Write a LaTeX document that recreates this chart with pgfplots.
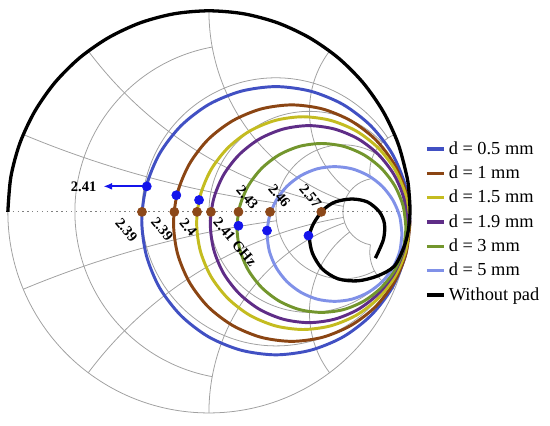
\documentclass[border=0pt]{standalone}
\usepackage{fontspec}
\setmainfont{Liberation Serif}
\usepackage{pgfplots}
\pgfplotsset{compat=1.18}
\usetikzlibrary{arrows.meta}

\definecolor{cBlue}{RGB}{65,80,195}
\definecolor{cBrown}{RGB}{139,69,19}
\definecolor{cYellow}{RGB}{196,188,32}
\definecolor{cPurple}{RGB}{95,45,135}
\definecolor{cGreen}{RGB}{115,150,45}
\definecolor{cLight}{RGB}{128,145,232}
\definecolor{mBlue}{RGB}{20,20,235}
\definecolor{mBrown}{RGB}{140,72,25}
\definecolor{gridc}{RGB}{160,160,160}

\begin{document}
\begin{tikzpicture}[lab/.style={font=\fontsize{8.4}{10}\selectfont\bfseries, inner sep=1pt}]
% page size (chart radius = 4.08cm, centre at (4.08cm,4.08cm))
\path[use as bounding box] (-0.1592cm,-0.2608cm) rectangle (11.0008cm,8.3792cm);

% Smith chart grid
\begin{scope}[x=4.08cm, y=4.08cm, shift={(1,1)}, draw=gridc, line width=0.45pt]
  \draw (0,0) circle[radius=1];
  % constant resistance circles
  \draw (0.0164,0.8197) arc[start angle=100.4, end angle=259.6, radius=0.8333];
  \draw (0.8899,0.3670) arc[start angle=33.4, end angle=326.6, radius=0.6667];
  \draw (0.8621,0.3448) arc[start angle=43.6, end angle=316.4, radius=0.5];
  \draw (0.8235,0.2941) arc[start angle=61.9, end angle=298.1, radius=0.3333];
  \draw (0.8033,0.1639) arc[start angle=100.4, end angle=259.6, radius=0.1667];
  % constant reactance arcs
  \draw (-0.9231,0.3846) arc[start angle=247.38, end angle=262.37, radius=5];
  \draw (-0.9231,-0.3846) arc[start angle=-247.38, end angle=-262.37, radius=5];
  \draw (-0.6,0.8) arc[start angle=216.87, end angle=260.47, radius=2];
  \draw (-0.6,-0.8) arc[start angle=-216.87, end angle=-260.47, radius=2];
  \draw (0,1) arc[start angle=180, end angle=251.08, radius=1];
  \draw (0,-1) arc[start angle=-180, end angle=-251.08, radius=1];
  \draw (0.6,0.8) arc[start angle=143.13, end angle=233.13, radius=0.5];
  \draw (0.6,-0.8) arc[start angle=-143.13, end angle=-233.13, radius=0.5];
  \draw (0.9231,0.3846) arc[start angle=112.62, end angle=190.4, radius=0.2];
  \draw (0.9231,-0.3846) arc[start angle=-112.62, end angle=-190.4, radius=0.2];
  % real axis
  \draw[dash pattern=on 0.8pt off 2pt, draw=gray] (-1,0) -- (1,0);
\end{scope}

\begin{axis}[
    at={(0,0)}, anchor=south west,
    scale only axis, width=8.16cm, height=8.16cm,
    xmin=-1, xmax=1, ymin=-1, ymax=1,
    hide axis, clip=false,
    legend style={at={(1.0246,0.6936)}, anchor=north west, draw=none, fill=none,
        font=\fontsize{10.6}{12}\selectfont, row sep=1.2pt},
    legend cell align=left,
    legend image code/.code={\draw[#1, line width=1.8pt] (0cm,0cm) -- (0.34cm,0cm);},
]
\addplot[cBlue, line width=1.7pt, smooth] coordinates {
 (1.000,-0.044) (0.977,0.129) (0.911,0.290) (0.805,0.428) (0.667,0.534) (0.506,0.600)
 (0.333,0.623) (0.160,0.600) (-0.001,0.534) (-0.139,0.428) (-0.245,0.290) (-0.311,0.129)
 (-0.334,-0.044) (-0.311,-0.217) (-0.245,-0.378) (-0.139,-0.516) (-0.001,-0.622) (0.160,-0.688)
 (0.333,-0.711) (0.506,-0.688) (0.667,-0.622) (0.805,-0.516) (0.911,-0.378) (0.977,-0.217)
 (1.000,-0.044)};
\addlegendentry{d = 0.5 mm}
\addplot[cBrown, line width=1.7pt, smooth] coordinates {
 (1.000,-0.056) (0.980,0.096) (0.921,0.238) (0.828,0.360) (0.706,0.453) (0.564,0.512)
 (0.412,0.532) (0.260,0.512) (0.118,0.453) (-0.004,0.360) (-0.097,0.238) (-0.156,0.096)
 (-0.176,-0.056) (-0.156,-0.208) (-0.097,-0.350) (-0.004,-0.472) (0.118,-0.565) (0.260,-0.624)
 (0.412,-0.644) (0.564,-0.624) (0.706,-0.565) (0.828,-0.472) (0.921,-0.350) (0.980,-0.208)
 (1.000,-0.056)};
\addlegendentry{d = 1 mm}
\addplot[cYellow, line width=1.7pt, smooth] coordinates {
 (0.997,-0.056) (0.979,0.081) (0.926,0.209) (0.842,0.318) (0.733,0.402) (0.605,0.455)
 (0.468,0.473) (0.331,0.455) (0.203,0.402) (0.094,0.318) (0.010,0.209) (-0.043,0.081)
 (-0.061,-0.056) (-0.043,-0.193) (0.010,-0.321) (0.094,-0.430) (0.203,-0.514) (0.331,-0.567)
 (0.468,-0.585) (0.605,-0.567) (0.733,-0.514) (0.842,-0.430) (0.926,-0.321) (0.979,-0.193)
 (0.997,-0.056)};
\addlegendentry{d = 1.5 mm}
\addplot[cPurple, line width=1.7pt, smooth] coordinates {
 (0.987,-0.061) (0.970,0.066) (0.921,0.184) (0.843,0.285) (0.742,0.363) (0.624,0.412)
 (0.497,0.429) (0.370,0.412) (0.252,0.363) (0.151,0.285) (0.073,0.184) (0.024,0.066)
 (0.007,-0.061) (0.024,-0.188) (0.073,-0.306) (0.151,-0.407) (0.252,-0.485) (0.370,-0.534)
 (0.497,-0.551) (0.624,-0.534) (0.742,-0.485) (0.843,-0.407) (0.921,-0.306) (0.970,-0.188)
 (0.987,-0.061)};
\addlegendentry{d = 1.9 mm}
\addplot[cGreen, line width=1.7pt, smooth] coordinates {
 (0.980,-0.080) (0.966,0.029) (0.924,0.130) (0.857,0.217) (0.770,0.284) (0.669,0.326)
 (0.560,0.340) (0.451,0.326) (0.350,0.284) (0.263,0.217) (0.196,0.130) (0.154,0.029)
 (0.140,-0.080) (0.154,-0.189) (0.196,-0.290) (0.263,-0.377) (0.350,-0.444) (0.451,-0.486)
 (0.560,-0.500) (0.669,-0.486) (0.770,-0.444) (0.857,-0.377) (0.924,-0.290) (0.966,-0.189)
 (0.980,-0.080)};
\addlegendentry{d = 3 mm}
\addplot[cLight, line width=1.7pt, smooth] coordinates {
 (0.960,-0.110) (0.949,-0.023) (0.915,0.058) (0.862,0.127) (0.793,0.180) (0.712,0.214)
 (0.625,0.225) (0.538,0.214) (0.457,0.180) (0.388,0.127) (0.335,0.058) (0.301,-0.023)
 (0.290,-0.110) (0.301,-0.197) (0.335,-0.278) (0.388,-0.347) (0.457,-0.400) (0.538,-0.434)
 (0.625,-0.445) (0.712,-0.434) (0.793,-0.400) (0.862,-0.347) (0.915,-0.278) (0.949,-0.197)
 (0.960,-0.110)};
\addlegendentry{d = 5 mm}
\addplot[black, line width=1.9pt, smooth] coordinates {
 (-1.000,0.000) (-0.985,0.174) (-0.940,0.342) (-0.866,0.500) (-0.766,0.643) (-0.643,0.766)
 (-0.500,0.866) (-0.342,0.940) (-0.174,0.985) (0.000,1.000) (0.174,0.985) (0.342,0.940)
 (0.500,0.866) (0.643,0.766) (0.766,0.643) (0.866,0.500) (0.940,0.342) (0.985,0.174)
 (0.996,0.087) (1.000,0.000) (0.992,-0.090) (0.971,-0.172) (0.922,-0.270) (0.838,-0.319)
 (0.740,-0.343) (0.642,-0.333) (0.564,-0.284) (0.515,-0.206) (0.500,-0.123) (0.520,-0.059)
 (0.569,0.010) (0.627,0.049) (0.711,0.064) (0.789,0.049) (0.848,0.000) (0.873,-0.059)
 (0.868,-0.137) (0.828,-0.230)};
\addlegendentry{Without pad}

% frequency markers
\addplot[forget plot, mBlue, line width=1pt, -{Latex[length=5pt,width=4pt]}] coordinates {
 (-0.309,0.127) (-0.525,0.127)};
\addplot[forget plot, only marks, mark=*, mark size=2.6pt, mBrown, mark options={draw=mBrown, fill=mBrown}] coordinates {
 (-0.333,0) (-0.172,0) (-0.059,0) (0.010,0) (0.147,0) (0.304,0) (0.559,0)};
\addplot[forget plot, only marks, mark=*, mark size=2.6pt, mBlue, mark options={draw=mBlue, fill=mBlue}] coordinates {
 (-0.309,0.127) (-0.162,0.083) (-0.049,0.059) (0.147,-0.069) (0.289,-0.093) (0.495,-0.118)};

\node[lab] at (axis cs:-0.623,0.127) {2.41};
\node[lab, rotate=-50] at (axis cs:-0.410,-0.090) {2.39};
\node[lab, rotate=-50] at (axis cs:-0.232,-0.085) {2.39};
\node[lab, rotate=-50] at (axis cs:-0.103,-0.078) {2.4};
\node[lab, rotate=-50] at (axis cs:0.130,-0.150) {2.41 GHz};
\node[lab, rotate=-50] at (axis cs:0.191,0.072) {2.43};
\node[lab, rotate=-50] at (axis cs:0.350,0.080) {2.46};
\node[lab, rotate=-50] at (axis cs:0.505,0.078) {2.57};
\end{axis}
\end{tikzpicture}
\end{document}
